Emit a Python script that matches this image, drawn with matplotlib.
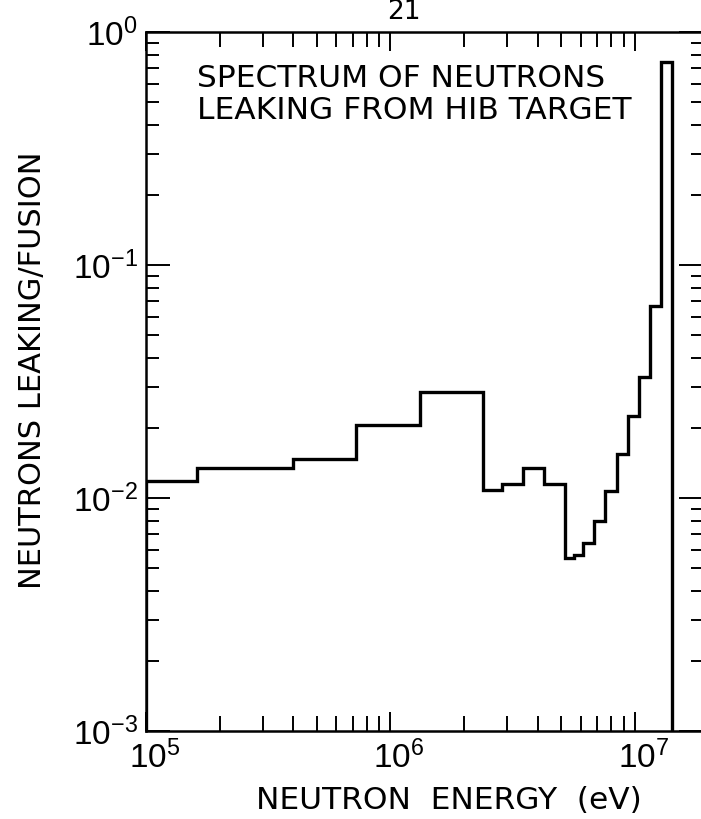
import matplotlib.pyplot as plt
from matplotlib.ticker import FixedLocator, LogLocator, NullFormatter
import matplotlib.transforms as mtransforms

# bin edges (eV) and neutrons leaking per fusion in each bin
energy_edges = [1.0e5, 1.62e5, 4.0e5, 7.2e5, 1.32e6, 2.40e6, 2.87e6, 3.50e6,
                4.26e6, 5.17e6, 5.63e6, 6.12e6, 6.82e6, 7.55e6, 8.49e6,
                9.40e6, 1.04e7, 1.15e7, 1.28e7, 1.42e7]
leak = [0.0118, 0.0134, 0.0147, 0.0205, 0.0286, 0.0108, 0.0115, 0.0134,
        0.0115, 0.0055, 0.0057, 0.0064, 0.0080, 0.0107, 0.0154, 0.0224,
        0.0330, 0.067, 0.74]

x_major = [1e5, 1e6, 1e7]
x_labels = [r'$\mathregular{10^{5}}$', r'$\mathregular{10^{6}}$', r'$\mathregular{10^{7}}$']
y_major = [1e-3, 1e-2, 1e-1, 1e0]
y_labels = [r'$\mathregular{10^{-3}}$', r'$\mathregular{10^{-2}}$',
            r'$\mathregular{10^{-1}}$', r'$\mathregular{10^{0}}$']

tick_font = ['Liberation Sans', 'DejaVu Sans']

fig = plt.figure(figsize=(7.01, 8.19), dpi=100)
# right spine sits just past the edge of the page
ax = fig.add_axes([146 / 701, 88 / 819, 557 / 701, 699 / 819])

ax.stairs(leak, energy_edges, baseline=1e-3, color='black', lw=2.4)

ax.set_xscale('log')
ax.set_yscale('log')
ax.set_xlim(1e5, 1.9e7)
ax.set_ylim(1e-3, 1)

ax.xaxis.set_major_locator(FixedLocator(x_major))
ax.yaxis.set_major_locator(FixedLocator(y_major))
ax.xaxis.set_minor_locator(LogLocator(base=10, subs=range(2, 10), numticks=20))
ax.yaxis.set_minor_locator(LogLocator(base=10, subs=range(2, 10), numticks=20))
ax.xaxis.set_minor_formatter(NullFormatter())
ax.yaxis.set_minor_formatter(NullFormatter())
ax.set_xticklabels(x_labels, family=tick_font, fontsize=24)
ax.set_yticklabels(y_labels, family=tick_font, fontsize=24)

ax.tick_params(which='both', direction='in', top=True, right=True,
               width=1.4, color='black')
ax.tick_params(axis='x', which='major', length=14, pad=7)
ax.tick_params(axis='x', which='minor', length=11)
ax.tick_params(axis='y', which='major', length=17, pad=6)
ax.tick_params(axis='y', which='minor', length=9)

# nudge the x labels so the "10" sits over its tick
shift = mtransforms.ScaledTranslation(6 / 72, 0, fig.dpi_scale_trans)
for lab in ax.get_xticklabels():
    lab.set_transform(lab.get_transform() + shift)

for sp in ax.spines.values():
    sp.set_linewidth(1.8)

ax.text(0.0916, 0.934, 'SPECTRUM OF NEUTRONS', transform=ax.transAxes,
        fontsize=22.5, va='center', ha='left')
ax.text(0.0916, 0.888, 'LEAKING FROM HIB TARGET', transform=ax.transAxes,
        fontsize=22.5, va='center', ha='left')

ax.set_xlabel('NEUTRON  ENERGY  (eV)', fontsize=22.5)
ax.xaxis.set_label_coords(0.544, -0.099)
ax.xaxis.label.set_va('center')

ax.set_ylabel('NEUTRONS LEAKING/FUSION', fontsize=22)
ax.yaxis.set_label_coords(-0.203, 0.516)
ax.yaxis.label.set_va('center')

# page number at the top edge
fig.text(404 / 701, 1 - 19 / 819, '21', fontsize=19, ha='center', va='baseline')

fig.savefig('out.png', dpi=100)
